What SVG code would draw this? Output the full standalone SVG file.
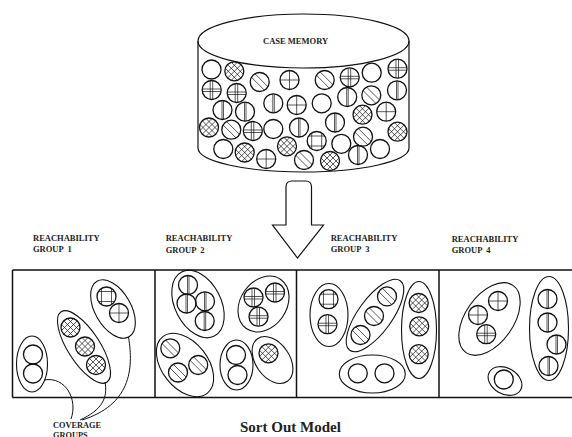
<svg xmlns="http://www.w3.org/2000/svg" xmlns:xlink="http://www.w3.org/1999/xlink" width="572" height="437" viewBox="0 0 572 437">
<style>
.c{fill:none;stroke:#111;stroke-width:1.3}
.h{fill:none;stroke:#111;stroke-width:0.7}
.e{fill:none;stroke:#111;stroke-width:1.1}
.o{fill:none;stroke:#111;stroke-width:1.2}
.box{fill:none;stroke:#111;stroke-width:1.5}
.cn{fill:none;stroke:#111;stroke-width:1}
.t{font-family:"Liberation Serif","Times New Roman",serif;font-weight:bold;fill:#222}
.lbl{font-size:8.5px}
</style>
<defs>
<clipPath id="cc"><circle r="9.5"/></clipPath>
<g id="p-plain"><circle r="9.5" class="c"/></g>
<g id="p-cross"><path clip-path="url(#cc)" class="h" d="M-12,-18 L12,6 M-12,-12 L12,12 M-12,-6 L12,18 M-12,18 L12,-6 M-12,12 L12,-12 M-12,6 L12,-18"/><circle r="9.5" class="c"/></g>
<g id="p-diag"><path clip-path="url(#cc)" class="h" d="M-12,-15.5 L12,8.5 M-12,-8.5 L12,15.5"/><circle r="9.5" class="c"/></g>
<g id="p-plus"><path class="h" d="M-9.5,0 H9.5 M0,-9.5 V9.5"/><circle r="9.5" class="c"/></g>
<g id="p-grid"><path clip-path="url(#cc)" class="h" d="M-10,-1 H10 M-10,1.5 H10 M-1.5,-10 V10 M1,-10 V10"/><circle r="9.5" class="c"/></g>
<g id="p-vert"><path clip-path="url(#cc)" class="h" d="M-0.5,-10 V10 M1,-10 V10"/><circle r="9.5" class="c"/></g>
<g id="p-square"><path clip-path="url(#cc)" class="h" d="M-10,-5 H10 M-10,5 H10 M-5,-10 V10 M5,-10 V10"/><circle r="9.5" class="c"/></g>
</defs>
<rect width="572" height="437" fill="#fff"/>

<g id="case-memory">
<ellipse class="o" cx="303.5" cy="41" rx="105.5" ry="27"/>
<path class="o" d="M198,41 V148 A105.5,24 0 0 0 409,148 V41"/>
<text class="t lbl" x="263" y="44">CASE MEMORY</text>
<use href="#p-plain" x="211.5" y="69.5"/>
<use href="#p-cross" x="234.3" y="71.3"/>
<use href="#p-diag" x="259.7" y="82"/>
<use href="#p-plus" x="289.5" y="80"/>
<use href="#p-diag" x="324.7" y="80"/>
<use href="#p-grid" x="349.7" y="77.3"/>
<use href="#p-plain" x="371.7" y="72.7"/>
<use href="#p-grid" x="397.5" y="68.7"/>
<use href="#p-grid" x="211.7" y="90"/>
<use href="#p-grid" x="236.7" y="93"/>
<use href="#p-vert" x="347.2" y="97"/>
<use href="#p-diag" x="371.3" y="95.3"/>
<use href="#p-vert" x="397" y="90.3"/>
<use href="#p-vert" x="222.5" y="110"/>
<use href="#p-vert" x="245" y="111.7"/>
<use href="#p-vert" x="273.3" y="103.3"/>
<use href="#p-plus" x="296.7" y="105"/>
<use href="#p-plain" x="321.7" y="103.3"/>
<use href="#p-cross" x="362.5" y="114.7"/>
<use href="#p-plus" x="386.2" y="111.7"/>
<use href="#p-cross" x="209" y="127.5"/>
<use href="#p-diag" x="231.3" y="129.7"/>
<use href="#p-grid" x="252.8" y="131"/>
<use href="#p-plain" x="273.3" y="129"/>
<use href="#p-vert" x="299" y="127.5"/>
<use href="#p-vert" x="335" y="122.5"/>
<use href="#p-cross" x="397.5" y="131.7"/>
<use href="#p-plain" x="223.3" y="149"/>
<use href="#p-cross" x="244.7" y="152.5"/>
<use href="#p-plus" x="266.2" y="159"/>
<use href="#p-cross" x="287" y="146.3"/>
<use href="#p-diag" x="304" y="160"/>
<use href="#p-square" x="316.7" y="141"/>
<use href="#p-cross" x="330" y="161"/>
<use href="#p-plain" x="341.3" y="143.8"/>
<use href="#p-diag" x="363" y="136.7"/>
<use href="#p-vert" x="358" y="155"/>
<use href="#p-plain" x="380" y="149"/>
</g>

<g id="sort-arrow">
<path class="o" d="M286,225 V187 Q286,181 292,181 H305.5 Q311.5,181 311.5,187 V225 H323.5 L297.5,258 L272.5,225 Z"/>
</g>

<g id="labels">
<text class="t lbl" x="33" y="240.5">REACHABILITY</text>
<text class="t lbl" x="33" y="252" xml:space="preserve">GROUP  1</text>
<text class="t lbl" x="165.7" y="240.7">REACHABILITY</text>
<text class="t lbl" x="165.7" y="252.5" xml:space="preserve">GROUP  2</text>
<text class="t lbl" x="330.7" y="240.7">REACHABILITY</text>
<text class="t lbl" x="330.7" y="252.3" xml:space="preserve">GROUP  3</text>
<text class="t lbl" x="451.7" y="241.7">REACHABILITY</text>
<text class="t lbl" x="451.7" y="253.3" xml:space="preserve">GROUP  4</text>
</g>

<g id="reachability-panels">
<path class="box" d="M12.5,270 H580 M12.5,397.5 H580 M12.5,270 V397.5 M155,270 V397.5 M296.5,270 V397.5 M439,270 V397.5"/>
</g>

<g id="group1-cov-a">
<ellipse class="e" cx="32" cy="364" rx="15.5" ry="28"/>
<use href="#p-plain" x="33" y="354.5"/>
<use href="#p-plain" x="33" y="373.5"/>
</g>
<g id="group1-cov-b">
<ellipse class="e" cx="84" cy="347" rx="42" ry="16" transform="rotate(57 84 347)"/>
<use href="#p-cross" x="70.5" y="327.5"/>
<use href="#p-cross" x="85" y="346.5"/>
<use href="#p-cross" x="96" y="365"/>
</g>
<g id="group1-cov-c">
<ellipse class="e" cx="113" cy="309" rx="32" ry="18" transform="rotate(60 113 309)"/>
<use href="#p-square" x="106.5" y="296.5"/>
<use href="#p-plus" x="119" y="313"/>
</g>

<g id="group2-cov-a">
<ellipse class="e" cx="198" cy="304" rx="36" ry="23" transform="rotate(63 198 304)"/>
<use href="#p-vert" x="188" y="285"/>
<use href="#p-vert" x="186.5" y="303.5"/>
<use href="#p-vert" x="205" y="301.3"/>
<use href="#p-vert" x="204.7" y="321"/>
</g>
<g id="group2-cov-b">
<ellipse class="e" cx="263.5" cy="304" rx="30" ry="23" transform="rotate(-55 263.5 304)"/>
<use href="#p-grid" x="253.5" y="297.5"/>
<use href="#p-grid" x="275" y="292.5"/>
<use href="#p-grid" x="258.5" y="316.7"/>
</g>
<g id="group2-cov-c">
<ellipse class="e" cx="185" cy="365" rx="36" ry="23" transform="rotate(52 185 365)"/>
<use href="#p-diag" x="170.3" y="348.3"/>
<use href="#p-diag" x="178" y="372.5"/>
<use href="#p-diag" x="198.2" y="365"/>
</g>
<g id="group2-cov-d">
<ellipse class="e" cx="236.5" cy="365" rx="16.5" ry="25"/>
<use href="#p-plain" x="236" y="355"/>
<use href="#p-plain" x="237.5" y="375"/>
</g>
<g id="group2-cov-e">
<ellipse class="e" cx="272.5" cy="360" rx="26" ry="17" transform="rotate(55 272.5 360)"/>
<use href="#p-cross" x="268.5" y="353.3"/>
</g>

<g id="group3-cov-a">
<ellipse class="e" cx="329" cy="315" rx="19" ry="31.5"/>
<use href="#p-square" x="328.5" y="299.2"/>
<use href="#p-grid" x="327.5" y="324.2"/>
</g>
<g id="group3-cov-b">
<ellipse class="e" cx="375" cy="315.5" rx="43" ry="17" transform="rotate(-54 375 315.5)"/>
<use href="#p-diag" x="387" y="296.4"/>
<use href="#p-diag" x="374" y="316"/>
<use href="#p-diag" x="360.5" y="335"/>
</g>
<g id="group3-cov-c">
<ellipse class="e" cx="419" cy="330" rx="17.5" ry="48.5"/>
<use href="#p-cross" x="418.7" y="303"/>
<use href="#p-cross" x="419.2" y="326.3"/>
<use href="#p-cross" x="418.7" y="354.2"/>
</g>
<g id="group3-cov-d">
<ellipse class="e" cx="372.3" cy="374" rx="33" ry="19"/>
<use href="#p-plain" x="357.8" y="373.3"/>
<use href="#p-plain" x="384.5" y="373.3"/>
</g>

<g id="group4-cov-a">
<ellipse class="e" cx="489.5" cy="319" rx="41" ry="24" transform="rotate(-55 489.5 319)"/>
<use href="#p-plus" x="498" y="301"/>
<use href="#p-plus" x="478" y="315"/>
<use href="#p-grid" x="486.2" y="334.2"/>
</g>
<g id="group4-cov-b">
<ellipse class="e" cx="549" cy="328.5" rx="19.5" ry="52"/>
<use href="#p-vert" x="547.5" y="299"/>
<use href="#p-vert" x="547.5" y="322.5"/>
<use href="#p-vert" x="556.5" y="344.5"/>
<use href="#p-vert" x="548.5" y="366"/>
</g>
<g id="group4-cov-c">
<ellipse class="e" cx="505" cy="381" rx="18" ry="13" transform="rotate(30 505 381)"/>
<use href="#p-plain" x="503.8" y="379.5"/>
</g>

<g id="connectors">
<path class="cn" d="M44,380 C66,376 78,400 71,419"/>
<path class="cn" d="M105,382 C108,398 102,410 80,420"/>
<path class="cn" d="M128.5,337 C134,370 130,405 82,420"/>
</g>

<g id="captions">
<text class="t" font-size="8.3" x="53" y="427.5">COVERAGE</text>
<text class="t" font-size="8.3" x="53" y="438">GROUPS</text>
<text class="t" font-size="15" x="240" y="432">Sort Out Model</text>
</g>
</svg>
